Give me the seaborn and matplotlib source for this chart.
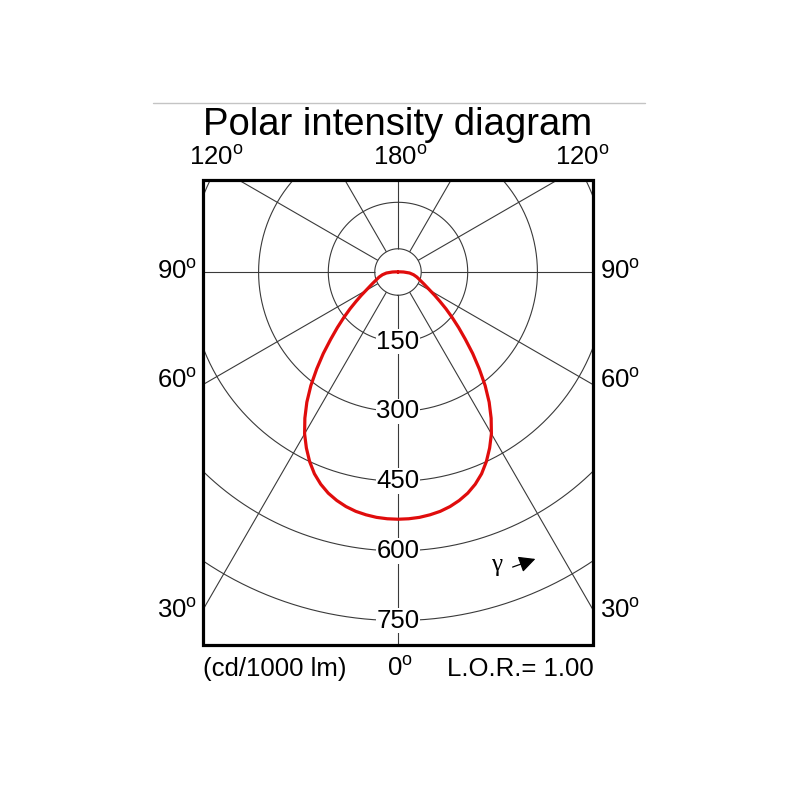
import numpy as np
import matplotlib
matplotlib.use("Agg")
import matplotlib.pyplot as plt
from matplotlib.patches import Rectangle, FancyArrowPatch
from matplotlib.lines import Line2D
import seaborn as sns

# luminous intensity (cd/1000 lm), symmetric about 0 deg
gamma_deg = [0, 2.5, 5, 7.5, 10, 12.5, 15, 17.5, 20, 22.5, 25, 27.5, 30, 32.5, 35, 37.5,
             40, 42.5, 45, 47.5, 50, 52.5, 55, 57.5, 60, 65, 70, 75, 80, 85,
             90, 95, 100, 120, 150, 180]
intensity = [532, 531.5, 530, 527, 523, 517, 509, 499, 486, 470, 450, 427, 402, 373, 342, 308,
             272, 238, 205, 177, 152, 130, 110, 94, 80, 62, 50, 42, 34, 25,
             12, 4, 0, 0, 0, 0]

rings = [50, 150, 300, 450, 600, 750]
ring_labels = [150, 300, 450, 600, 750]
spokes = list(range(0, 360, 30))

sns.set_theme(style="white")
plt.rcParams['font.family'] = ['Liberation Sans', 'DejaVu Sans']
plt.rcParams['text.color'] = 'black'
plt.rcParams['mathtext.fontset'] = 'custom'
plt.rcParams['mathtext.rm'] = 'Liberation Sans'

fig = plt.figure(figsize=(8, 8), dpi=100)

# polar axes: centre at (398, 272) px, 0.4647 px per cd
R = 1000
ax = fig.add_axes([-0.0834, 0.0791, 1.1618, 1.1618], projection='polar')
ax.set_theta_zero_location('S')
ax.set_ylim(0, R)
ax.set_xticks([])
ax.set_yticks([])
ax.grid(False)
ax.spines['polar'].set_visible(False)
ax.patch.set_alpha(0)

clip = Rectangle((0.25375, 0.19375), 0.4875, 0.58125, transform=fig.transFigure)

th = np.linspace(0, 2 * np.pi, 721)
for r in rings:
    ln, = ax.plot(th, np.full_like(th, r), color='#3a3a3a', lw=0.8, zorder=1)
    ln.set_clip_path(clip)

sp = ax.vlines(np.radians(spokes), 50, R, color='#3a3a3a', lw=0.8, zorder=1)
sp.set_clip_path(clip)

g = np.array(gamma_deg, dtype=float)
I = np.array(intensity, dtype=float)
theta = np.radians(np.concatenate([-g[::-1], g[1:]]))
rad = np.concatenate([I[::-1], I[1:]])
sns.lineplot(x=theta, y=rad, sort=False, estimator=None, ax=ax, color='#e00c0c', lw=2.3, zorder=3)
ax.lines[-1].set_clip_path(clip)
ax.set_xlabel("")
ax.set_ylabel("")

for v in ring_labels:
    ax.text(0, v, str(v), ha='center', va='center', fontsize=18.5, zorder=4,
            bbox=dict(facecolor='white', edgecolor='none', pad=0.5))

fig.add_artist(Rectangle((0.25375, 0.19375), 0.4875, 0.58125, transform=fig.transFigure,
                         fill=False, edgecolor='black', lw=2.3, zorder=5))

fig.add_artist(Line2D([153 / 800, 645 / 800], [0.87125, 0.87125], color='#c4c4c4', lw=1))
fig.text(0.4975, 0.83125, "Polar intensity diagram", ha='center', va='baseline', fontsize=27.5)

deg = r"$^{\rm o}$"
fs = 18.5
for x, s in [(0.2706, "120"), (0.5, "180"), (0.728, "120")]:
    fig.text(x, 0.79375, s + deg, ha='center', va='baseline', fontsize=fs)
for yb, s in [(279, "90"), (388, "60"), (618, "30")]:
    fig.text(0.2219, (800 - yb) / 800, s + deg, ha='center', va='baseline', fontsize=fs)
    fig.text(0.775, (800 - yb) / 800, s + deg, ha='center', va='baseline', fontsize=fs)

fig.text(0.34375, 0.155, "(cd/1000 lm)", ha='center', va='baseline', fontsize=fs)
fig.text(0.4994, 0.155, "0" + deg, ha='center', va='baseline', fontsize=fs)
fig.text(0.65, 0.155, "L.O.R.= 1.00", ha='center', va='baseline', fontsize=fs)

fig.text(0.621, 0.29375, "γ", ha='center', va='center', fontsize=18,
         family=['Liberation Serif', 'DejaVu Serif'])
fig.add_artist(FancyArrowPatch(
    (0.6375, 0.29), (0.6725, 0.3025), transform=fig.transFigure,
    arrowstyle='-|>,head_length=10,head_width=5', mutation_scale=1, color='black', lw=0.9))

fig.savefig("out.png", dpi=100)
